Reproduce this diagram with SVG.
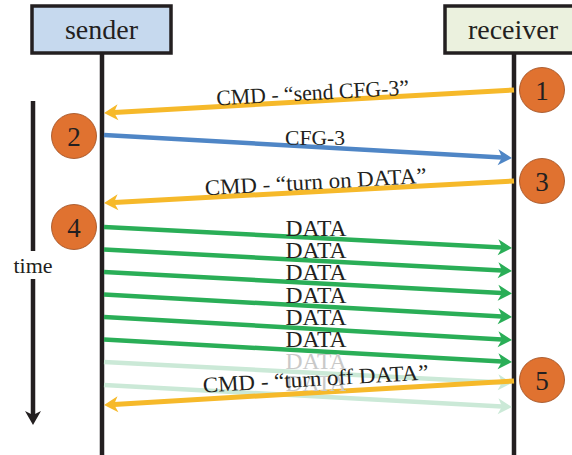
<svg xmlns="http://www.w3.org/2000/svg" width="572" height="455" viewBox="0 0 572 455">
<style>
text{font-family:"Liberation Serif","Times New Roman",serif;fill:#231f20}
.box{stroke:#231f20;stroke-width:3.5}
.life{stroke:#231f20;stroke-width:4.5;fill:none}
.hdr{font-size:28px;text-anchor:middle}
.lbl{font-size:22px;text-anchor:middle}
.dl{font-size:22.5px;text-anchor:middle}
.num{font-size:27px;text-anchor:middle}
.circ{fill:#e07230;stroke:#9c4a1c;stroke-width:0.8}
.y{stroke:#f6b92a;stroke-width:5;fill:none}
.b{stroke:#4f86c6;stroke-width:4.5;fill:none}
.g{stroke:#2aae57;stroke-width:4.5;fill:none}
.gf{stroke:#cbe9d7;stroke-width:4.5;fill:none}
.faded{fill:#c9c9c9}
</style>
<defs>
<marker id="ay" markerUnits="userSpaceOnUse" markerWidth="20" markerHeight="20" viewBox="0 -10 16 20" refX="4" refY="0" orient="auto"><path d="M14,0 L0,-8 L4,0 L0,8 Z" fill="#f6b92a"/></marker>
<marker id="ab" markerUnits="userSpaceOnUse" markerWidth="20" markerHeight="20" viewBox="0 -10 16 20" refX="4" refY="0" orient="auto"><path d="M14,0 L0,-8 L4,0 L0,8 Z" fill="#4f86c6"/></marker>
<marker id="ag" markerUnits="userSpaceOnUse" markerWidth="20" markerHeight="20" viewBox="0 -10 16 20" refX="4" refY="0" orient="auto"><path d="M14,0 L0,-8 L4,0 L0,8 Z" fill="#2aae57"/></marker>
<marker id="agf" markerUnits="userSpaceOnUse" markerWidth="20" markerHeight="20" viewBox="0 -10 16 20" refX="4" refY="0" orient="auto"><path d="M14,0 L0,-8 L4,0 L0,8 Z" fill="#cbe9d7"/></marker>
<marker id="ak" markerUnits="userSpaceOnUse" markerWidth="20" markerHeight="20" viewBox="0 -10 16 20" refX="4" refY="0" orient="auto"><path d="M14,0 L0,-8 L4,0 L0,8 Z" fill="#231f20"/></marker>
</defs>

<g id="sender">
<rect class="box" x="32" y="6" width="139" height="47" fill="#c6d9ee"/>
<text class="hdr" x="101.5" y="39">sender</text>
<line class="life" x1="102" y1="53" x2="102" y2="455"/>
</g>
<g id="receiver">
<rect class="box" x="445" y="6" width="140" height="47" fill="#ebf1de"/>
<text class="hdr" x="513" y="39">receiver</text>
<line class="life" x1="514" y1="53" x2="514" y2="455"/>
</g>

<g id="time">
<line class="life" x1="33" y1="101" x2="33" y2="251"/>
<text class="lbl" x="33" y="273">time</text>
<line class="life" x1="33" y1="279" x2="33" y2="415" marker-end="url(#ak)"/>
</g>

<g id="connectors">
<line class="gf" x1="104" y1="362" x2="502" y2="382.5" marker-end="url(#agf)"/>
<line class="gf" x1="104" y1="385" x2="502" y2="406.5" marker-end="url(#agf)"/>
<line class="y" x1="514" y1="90" x2="114" y2="112.4" marker-end="url(#ay)"/>
<line class="b" x1="104" y1="135" x2="502" y2="157.4" marker-end="url(#ab)"/>
<line class="y" x1="514" y1="181" x2="114" y2="202.5" marker-end="url(#ay)"/>
<line class="g" x1="104" y1="227" x2="502" y2="247.5" marker-end="url(#ag)"/>
<line class="g" x1="104" y1="249.5" x2="502" y2="270.5" marker-end="url(#ag)"/>
<line class="g" x1="104" y1="272" x2="502" y2="293" marker-end="url(#ag)"/>
<line class="g" x1="104" y1="294.5" x2="502" y2="316.5" marker-end="url(#ag)"/>
<line class="g" x1="104" y1="317" x2="502" y2="339.5" marker-end="url(#ag)"/>
<line class="g" x1="104" y1="339.5" x2="502" y2="361.5" marker-end="url(#ag)"/>
<line class="y" x1="514" y1="381" x2="114" y2="404.4" marker-end="url(#ay)"/>
</g>

<g id="labels">
<text class="lbl" transform="translate(313,100) rotate(-3.2)" textLength="193" lengthAdjust="spacingAndGlyphs">CMD - “send CFG-3”</text>
<text class="lbl" x="315" y="145" textLength="60" lengthAdjust="spacingAndGlyphs">CFG-3</text>
<text class="lbl" transform="translate(316,189) rotate(-3.2)" textLength="222" lengthAdjust="spacingAndGlyphs">CMD - “turn on DATA”</text>
<text class="dl" x="316" y="236" textLength="61" lengthAdjust="spacingAndGlyphs">DATA</text>
<text class="dl" x="316" y="258" textLength="61" lengthAdjust="spacingAndGlyphs">DATA</text>
<text class="dl" x="316" y="280" textLength="61" lengthAdjust="spacingAndGlyphs">DATA</text>
<text class="dl" x="316" y="303" textLength="61" lengthAdjust="spacingAndGlyphs">DATA</text>
<text class="dl" x="316" y="325" textLength="61" lengthAdjust="spacingAndGlyphs">DATA</text>
<text class="dl" x="316" y="347" textLength="61" lengthAdjust="spacingAndGlyphs">DATA</text>
<text class="dl faded" x="316" y="369" textLength="61" lengthAdjust="spacingAndGlyphs">DATA</text>
<text class="dl faded" x="316" y="391" textLength="61" lengthAdjust="spacingAndGlyphs">DATA</text>
<text class="lbl" transform="translate(316,386) rotate(-3.3)" textLength="226" lengthAdjust="spacingAndGlyphs">CMD - “turn off DATA”</text>
</g>

<g id="n1"><circle class="circ" cx="542" cy="90" r="22.5"/><text class="num" x="542" y="99.5">1</text></g>
<g id="n2"><circle class="circ" cx="74" cy="136" r="22.5"/><text class="num" x="74" y="145.5">2</text></g>
<g id="n3"><circle class="circ" cx="542" cy="181" r="22.5"/><text class="num" x="542" y="190.5">3</text></g>
<g id="n4"><circle class="circ" cx="74" cy="227" r="22.5"/><text class="num" x="74" y="236.5">4</text></g>
<g id="n5"><circle class="circ" cx="542" cy="380" r="22.5"/><text class="num" x="542" y="389.5">5</text></g>
</svg>
